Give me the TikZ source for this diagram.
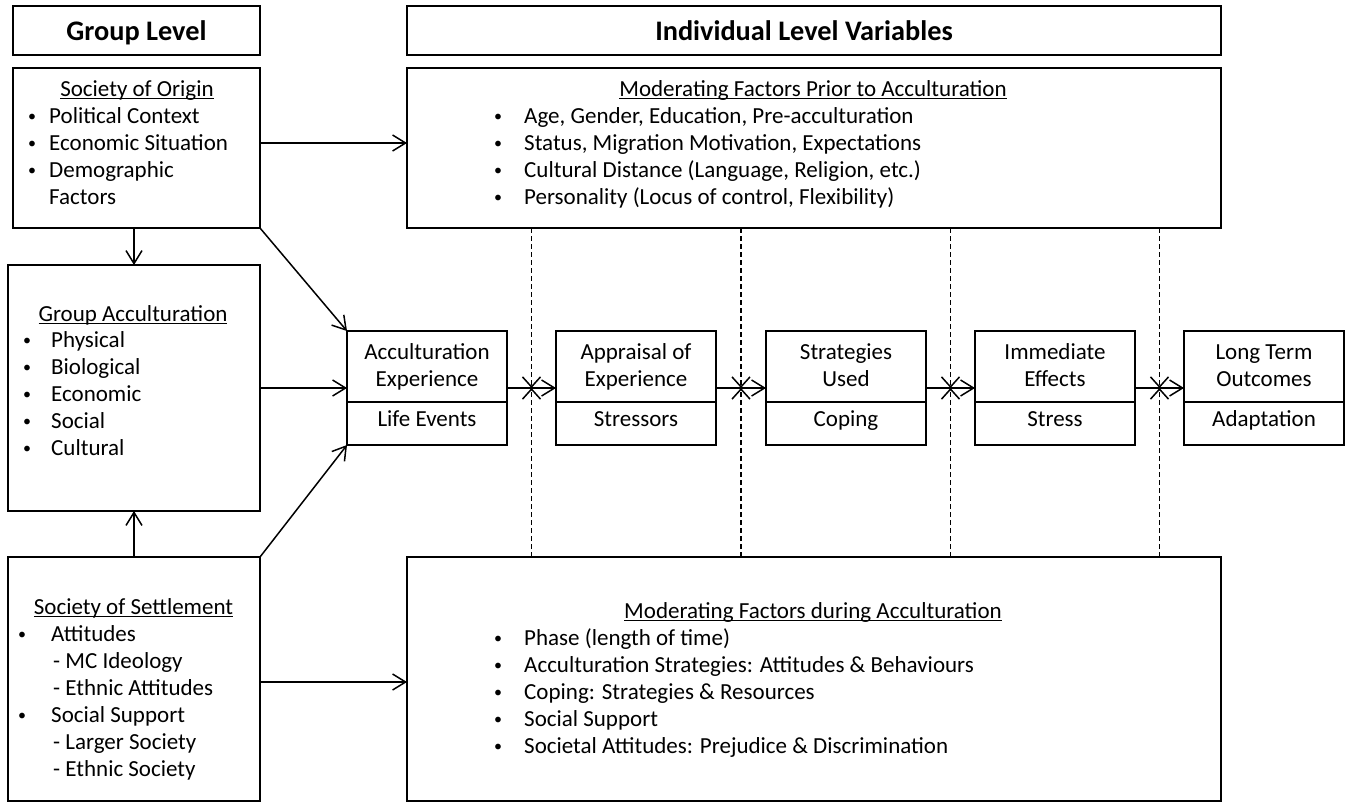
\documentclass[tikz,border=0pt]{standalone}
\usepackage{fontspec}
\setmainfont{Carlito}
\usetikzlibrary{arrows.meta,calc}
% underline drawn a little below the baseline, as in a word processor
\newcommand\uln[1]{\setbox0=\hbox{#1}\rlap{\rule[-3pt]{\wd0}{1.2pt}}\box0}
% small list bullet
\newcommand\bull{\raisebox{1.6pt}{\fontsize{16}{16}\selectfont\textbullet}}

\begin{document}
\begin{tikzpicture}[x=1pt,y=-1pt,
  box/.style={draw, line width=2.7pt, anchor=north west, outer sep=0pt, inner sep=0pt},
  txt/.style={anchor=base west, inner sep=0pt, font=\fontsize{23}{27}\selectfont},
  ctxt/.style={anchor=base, inner sep=0pt, font=\fontsize{23}{27}\selectfont},
  bul/.style={anchor=base, inner sep=0pt, font=\fontsize{23}{27}\selectfont},
  hdr/.style={anchor=base, inner sep=0pt, font=\fontsize{28.3}{34}\selectfont\bfseries},
  conn/.style={line width=1.5pt, -{Straight Barb[length=13pt,width=16pt]}},
  modline/.style={line width=1.5pt, dash pattern=on 5pt off 3pt, -{Straight Barb[length=10pt,width=18pt]}},
  divline/.style={line width=1.3pt}
]
\fill[white] (0,0) rectangle (1346,804);
\useasboundingbox (0,0) rectangle (1346,804);

% ---------- group level column ----------
\node[box, minimum width=247pt, minimum height=49pt] (gl) at (13,6) {};
\node[hdr] (glt) at (136.5,40) {Group Level};

\node[box, minimum width=247pt, minimum height=160pt] (origin) at (13,68) {};
\node[ctxt] (ot) at (137,96) {\uln{Society of Origin}};
\node[bul] (ob1) at (32,123) {\bull}; \node[txt] (o1) at (49,123) {Political Context};
\node[bul] (ob2) at (32,150) {\bull}; \node[txt] (o2) at (49,150) {Economic Situation};
\node[bul] (ob3) at (32,177) {\bull}; \node[txt] (o3) at (49,177) {Demographic};
\node[txt] (o4) at (49,204) {Factors};

\node[box, minimum width=252pt, minimum height=246pt] (gacc) at (8,265) {};
\node[ctxt] (gt) at (133,321) {\uln{Group Acculturation}};
\foreach \y/\t [count=\i] in {347/Physical, 374/Biological, 401/Economic, 428/Social, 455/Cultural} {
  \node[bul] (gb\i) at (27,\y) {\bull};
  \node[txt] (g\i) at (51,\y) {\t};
}

\node[box, minimum width=252pt, minimum height=244pt] (settle) at (8,557) {};
\node[ctxt] (st) at (133.5,614) {\uln{Society of Settlement}};
\node[bul] (sb1) at (22,641) {\bull}; \node[txt] (s1) at (51,641) {Attitudes};
\node[txt] (s2) at (53,668) {- MC Ideology};
\node[txt] (s3) at (53,695) {- Ethnic Attitudes};
\node[bul] (sb4) at (22,722) {\bull}; \node[txt] (s4) at (51,722) {Social Support};
\node[txt] (s5) at (53,749) {- Larger Society};
\node[txt] (s6) at (53,776) {- Ethnic Society};

% ---------- individual level column ----------
\node[box, minimum width=814pt, minimum height=49pt] (il) at (407,6) {};
\node[hdr] (ilt) at (804,40) {Individual Level Variables};

\node[box, minimum width=814pt, minimum height=160pt] (prior) at (407,68) {};
\node[ctxt] (pt) at (813,96) {\uln{Moderating Factors Prior to Acculturation}};
\foreach \y/\t [count=\i] in {123/{Age, Gender, Education, Pre-acculturation},
                              150/{Status, Migration Motivation, Expectations},
                              177/{Cultural Distance (Language, Religion, etc.)},
                              204/{Personality (Locus of control, Flexibility)}} {
  \node[bul] (pb\i) at (498,\y) {\bull};
  \node[txt] (p\i) at (524,\y) {\t};
}

\node[box, minimum width=814pt, minimum height=244pt] (during) at (407,557) {};
\node[ctxt] (dt) at (813,618) {\uln{Moderating Factors during Acculturation}};
\foreach \y/\t [count=\i] in {645/{Phase (length of time)},
                              672/{Acculturation Strategies: Attitudes \& Behaviours},
                              699/{Coping: Strategies \& Resources},
                              726/{Social Support},
                              753/{Societal Attitudes: Prejudice \& Discrimination}} {
  \node[bul] (db\i) at (498,\y) {\bull};
  \node[txt] (d\i) at (524,\y) {\t};
}

% ---------- process chain ----------
\coordinate (r1) at (0,359);
\coordinate (r2) at (0,386);
\coordinate (r3) at (0,426);
\coordinate (div) at (0,402);
\foreach \n/\x/\a/\b/\c in {acc/347/Acculturation/Experience/Life Events,
                            app/556/Appraisal of/Experience/Stressors,
                            str/766/Strategies/Used/Coping,
                            imm/975/Immediate/Effects/Stress,
                            lto/1184/Long Term/Outcomes/Adaptation} {
  \node[box, minimum width=160pt, minimum height=114pt] (\n) at (\x,331) {};
  \draw[divline] (\n.west |- div) -- (\n.east |- div);
  \node[ctxt] (\n-a) at (\n.north |- r1) {\a};
  \node[ctxt] (\n-b) at (\n.north |- r2) {\b};
  \node[ctxt] (\n-c) at (\n.north |- r3) {\c};
}

\foreach \p/\q/\i in {acc/app/1, app/str/2, str/imm/3, imm/lto/4} {
  \draw[conn] (\p.east) -- (\q.west);
  \coordinate (m\i) at ($(\p.east)!0.5!(\q.west)$);
  \draw[modline] (prior.south -| m\i) -- (m\i);
  \draw[modline] (during.north -| m\i) -- (m\i);
}

% ---------- connectors on the left ----------
\draw[conn] (origin.south -| gacc.north) -- (gacc.north);
\draw[conn] (settle.north -| gacc.south) -- (gacc.south);
\draw[conn] ([yshift=5pt]origin.east) -- ([yshift=5pt]origin.east -| prior.west);
\draw[conn] ([yshift=-3pt]settle.east) -- ([yshift=-3pt]settle.east -| during.west);
\draw[conn] (gacc.east) -- (acc.west);
\draw[conn] (origin.south east) -- (acc.north west);
\draw[conn] (settle.north east) -- (acc.south west);
\end{tikzpicture}
\end{document}
